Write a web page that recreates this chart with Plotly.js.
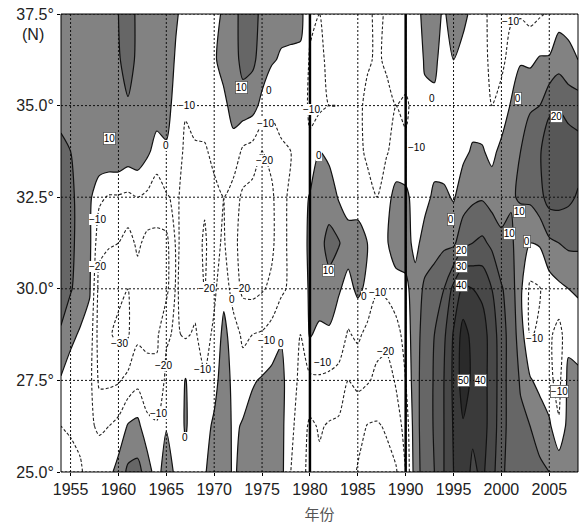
<!DOCTYPE html>
<html><head><meta charset="utf-8">
<script src="https://cdn.plot.ly/plotly-3.0.1.min.js"></script>
<style>html,body{margin:0;padding:0;background:#fff}</style>
</head><body><div id="chart" style="width:582px;height:526px"></div>
<script>
const years = [1954,1955,1956,1957,1958,1959,1960,1961,1962,1963,1964,1965,1966,1967,1968,1969,1970,1971,1972,1973,1974,1975,1976,1977,1978,1979,1980,1981,1982,1983,1984,1985,1986,1987,1988,1989,1990,1991,1992,1993,1994,1995,1996,1997,1998,1999,2000,2001,2002,2003,2004,2005,2006,2007,2008];
const latitudes = [25, 26.25, 27.5, 28.75, 30, 31.25, 32.5, 33.75, 35, 36.25, 37.5];
// anomaly (%) per year, from 25°N to 37.5°N
const anomalyByYear = [
[-13,-10,-1,9,14,15,15,12,7,7,7],
[-13,-9,-4,2,11,12,12,10,8,8,8],
[-11,-8,-5,-1,5,7,7,7,7,8,8],
[-7,-9,-7,-4,1,2,2,6,7,8,8],
[-6,-11,-22,-25,-24,-17,-8,9,8,8,8],
[-3,-10,-22,-29,-27,-19,-11,9,7,7,8],
[4,-7,-21,-32,-28,-20,-11,9,8,9,10],
[12,1,-17,-31,-30,-24,-12,6,9,14,15],
[13,3,-13,-22,-25,-18,-10,7,8,8,8],
[6,-7,-17,-22,-25,-23,-12,2,7,7,7],
[-6,-9,-17,-22,-24,-22,-16,-4,5,6,6],
[8,-1,-8,-11,-23,-23,-11,-1,3,5,6],
[-3,-6,-8,-9,-9,-9,-8,-5,-3,-1,1],
[-3,1,0.5,-11,-13,-12,-14,-12,-9,-5,-3],
[-2,-5,-6,-9,-13,-14,-14,-11,-7,-4,-2],
[-1,-4,-9,-14,-20.5,-22,-18,-11,-6,-4,-2],
[5,2,-4,-8,-12,-12,-12,-8,-4,-1,-2],
[8,7,6,3,-3,-9,-10,-7,-2,3,1],
[-2,-2,-3,-5,-15,-17,-15,-3,3,6,6],
[4,1,-5,-12,-22,-24,-22,-12,6,13,14],
[7,4,-1,-10,-23,-25,-24,-14,4,12,13],
[8,6,1,-9,-21,-26,-25,-20,-3,6,8],
[7,6,3,-6,-18,-22,-22,-17,-7,1,5],
[3,3,3,-1,-12,-14,-13,-12,-5,-1,3],
[-10,-8,-6,-9,-8,-7,-8,-10,-4,-2,4],
[-15,-14,-12,-10,-8,-7,-6,-6,-7,-2,3],
[-24,-22,-12,1,2,3,1,-9,-11,-11,-8],
[-22,-19,-11,-3,7,8,6,0,-12,-12,-10],
[-24,-21,-12,-2,8,12,7,-3,-10,-8,-7],
[-23,-22,-13,-5,1,11,-1,-8,-10,-6,-5],
[-25,-23,-20,-11,-3,4,-4,-8,-7,-5,-4],
[-31,-26,-18,-8,2,3,-3,-7,-8,-6,-5],
[-34,-30.5,-19,-13,-2,0,-6,-12,-12,-9,-8],
[-35,-31,-22,-17,-9,-5,-10,-12,-12,-11,-12],
[-33,-29,-24,-17,-8,-1,-3,-11,-12,-9,-9],
[-31,-24,-19,-14,-4,5,3,-6,-10,-8,-7],
[-20,-17,-10,-6,-2,4,3,-9,-11,-7,-5],
[6,7,7,6,4,-3,-5,-8,-8,-6,-4],
[14,14,14,14,12,4,-3,-5,-2,1,3],
[20,21,21,20,15,6,2,-4,-2,2,5],
[30,30,30,28,20,8,2,-5,-6,-4,-2],
[40,41,42,41,33,8,-1,-5,-5,0,8],
[45,49,55,54,42,17,5,-2,-5,-4,3],
[38,42,48,47,40,20,8,1,-4,-4,-3],
[42,44,43,44,38,22,9,1,-6,-6,-6],
[34,36,37,36,30,18,6,-3,-10,-13,-14],
[22,24,24,24,21,12,6,3,-7,-12,-13],
[16,16,16,16,15,12,9,5,1,-7,-11],
[14,12,9,5,2,4,11,10,7,-1,-11],
[13,10,1,-10.5,-12,0,12,15,9,-2,-13],
[12,6,-3,-9,-10.5,1,17,19,10,1,-11],
[10,2,-8,-8,-5,8,24,26,18,1,-9],
[8,-9,-13,-14,-2,10,24,28,19,6,-4],
[6,4,3,-3,0,12,22,26,16,3,-4],
[6,5,2,-4,1,12,19,24,15,0,-5]
];
const xTickVals = [1955,1960,1965,1970,1975,1980,1985,1990,1995,2000,2005];
const xTickText = ['1955','1960','1965','1970','1975','1980','1985','1990','1995','2000','2005'];
const yTickVals = [25,27.5,30,32.5,35,37.5];
const yTickText = ['25.0°','27.5°','30.0°','32.5°','35.0°','37.5°'];
const markerYears = [1980, 1990];
const xTitle = '年份';
const yUnit = '(N)';
// contour value labels: text, year, latitude, boxed
const labelText = ['10','0','10','0','−10','−10','−20','−10','−20','−30','−20','−10','0','−20','−20','0','−10','−10','0','−10','0','10','0','−10','−10','−20','−10','0','0','20','30','40','50','40','−10','0','20','10','10','0','−10','−10'];
const labelYear = [1959.1,1965.0,1972.9,1975.7,1967.1,1975.4,1975.3,1957.8,1957.8,1960.1,1964.7,1964.2,1966.9,1969.2,1972.9,1971.9,1968.8,1975.5,1977.0,1980.2,1980.9,1981.9,1985.6,1987.1,1981.3,1987.9,1991.1,1992.8,1994.7,1995.8,1995.8,1995.8,1996.0,1997.8,2001.0,2001.7,2005.8,2001.9,2000.8,2002.7,2003.5,2006.1];
const labelLat = [34.1,33.9,35.5,35.4,35.0,34.5,33.5,31.9,30.6,28.5,27.9,26.6,25.95,30.0,30.0,29.7,27.8,28.6,28.5,34.9,33.65,30.5,29.8,29.9,28.0,28.3,33.85,35.2,31.9,31.05,30.6,30.1,27.5,27.5,37.3,35.2,34.7,32.1,31.5,31.3,28.65,27.2];
const labelBoxed = [1,0,1,0,0,0,0,0,0,0,0,0,0,0,0,0,0,0,0,0,0,1,0,0,0,0,0,0,1,1,1,1,1,1,0,1,1,1,1,1,0,1];

const z = latitudes.map((_, i) => anomalyByYear.map(col => col[i]));
const smooth = 0.7;
const fillScale = [
  [0,'#ffffff'],[1/9,'#ffffff'],[2/9,'#ffffff'],[3/9,'#ffffff'],
  [4/9,'#828282'],[5/9,'#666666'],[6/9,'#575757'],[7/9,'#484848'],[8/9,'#3a3a3a'],[1,'#2a2a2a']
];
const fillTrace = {
  type:'contour', x:years, y:latitudes, z:z,
  autocontour:false, contours:{start:-30,end:50,size:10,coloring:'fill',showlines:false},
  colorscale:fillScale, showscale:false, line:{width:0,smoothing:smooth}, hoverinfo:'skip'
};
const posLines = {
  type:'contour', x:years, y:latitudes, z:z,
  autocontour:false, contours:{start:0,end:50,size:10,coloring:'none'},
  line:{color:'#111',width:1.2,smoothing:smooth}, showscale:false, hoverinfo:'skip'
};
const negLines = {
  type:'contour', x:years, y:latitudes, z:z,
  autocontour:false, contours:{start:-30,end:-10,size:10,coloring:'none'},
  line:{color:'#222',width:1.1,dash:'3px,2px',smoothing:smooth}, showscale:false, hoverinfo:'skip'
};
const shapes = [];
xTickVals.forEach(v => shapes.push({type:'line',xref:'x',yref:'paper',x0:v,x1:v,y0:0,y1:1,layer:'above',line:{color:'#111',width:1,dash:'2px,2px'}}));
yTickVals.forEach(v => shapes.push({type:'line',xref:'paper',yref:'y',x0:0,x1:1,y0:v,y1:v,layer:'above',line:{color:'#111',width:1,dash:'2px,2px'}}));
markerYears.forEach(v => shapes.push({type:'line',xref:'x',yref:'paper',x0:v,x1:v,y0:0,y1:1,layer:'above',line:{color:'#000',width:2.5}}));
shapes.push({type:'rect',xref:'paper',yref:'paper',x0:0,x1:1,y0:0,y1:1,layer:'above',line:{color:'#000',width:1}});

const annotations = labelText.map((t, i) => ({
  text:t, x:labelYear[i], y:labelLat[i], xref:'x', yref:'y', showarrow:false,
  font:{family:'Liberation Sans, Arial', size:10, color:'#000'},
  bgcolor:'#fff', bordercolor: labelBoxed[i] ? '#555' : 'rgba(0,0,0,0)', borderwidth: labelBoxed[i] ? 0.8 : 0, borderpad:0
}));
annotations.push({text:yUnit, xref:'paper', yref:'y', x:0, y:37.5, xanchor:'right', yanchor:'top',
  xshift:-15, yshift:-10, showarrow:false, font:{family:'Liberation Sans, Arial', size:16, color:'#222'}});

const layout = {
  width:582, height:526,
  margin:{l:61,r:4,t:14,b:54},
  paper_bgcolor:'#fff', plot_bgcolor:'#fff',
  font:{family:'Liberation Sans, Arial', size:16, color:'#222'},
  showlegend:false,
  xaxis:{range:[1954,2008], tickvals:xTickVals, ticktext:xTickText, ticks:'outside', ticklen:3,
    tickcolor:'#000', showgrid:false, zeroline:false, showline:false, tickfont:{size:16},
    title:{text:xTitle, standoff:12, font:{family:'Noto Sans CJK SC', size:15, color:'#555'}}},
  yaxis:{range:[25,37.5], tickvals:yTickVals, ticktext:yTickText, ticks:'outside', ticklen:3,
    tickcolor:'#000', showgrid:false, zeroline:false, showline:false, tickfont:{size:16}},
  shapes:shapes,
  annotations:annotations
};
Plotly.newPlot('chart',[fillTrace,posLines,negLines],layout,{displayModeBar:false,staticPlot:true});
</script></body></html>
